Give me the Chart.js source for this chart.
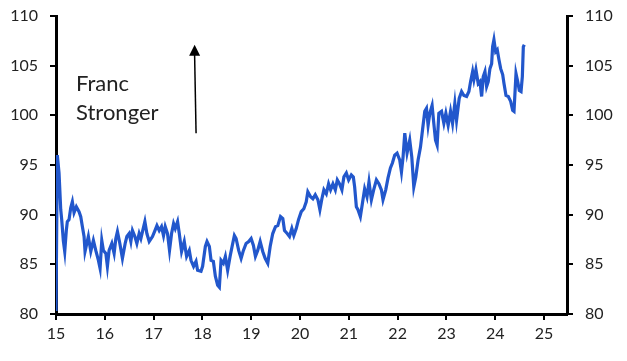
<!DOCTYPE html>
<html>
<head>
<meta charset="utf-8">
<script src="https://cdn.jsdelivr.net/npm/chart.js@4.4.1/dist/chart.umd.min.js"></script>
<style>
  html, body { margin: 0; padding: 0; background: #fff; }
  #wrap { width: 627px; height: 361px; }
</style>
</head>
<body>
<div id="wrap"><canvas id="chart"></canvas></div>
<script>
// Franc index, x in years (15 = 2015)
const years = [
  15.000, 15.027, 15.062, 15.097, 15.117, 15.150, 15.179, 15.211, 15.232, 15.267,
  15.302, 15.335, 15.370, 15.417, 15.472, 15.507, 15.540, 15.575, 15.595, 15.663,
  15.713, 15.766, 15.815, 15.869, 15.903, 15.938, 15.971, 16.021, 16.053, 16.088,
  16.144, 16.191, 16.226, 16.259, 16.308, 16.361, 16.417, 16.452, 16.499, 16.534,
  16.567, 16.616, 16.657, 16.704, 16.739, 16.772, 16.821, 16.862, 16.910, 16.977,
  17.027, 17.068, 17.115, 17.162, 17.203, 17.238, 17.285, 17.326, 17.368, 17.409,
  17.444, 17.491, 17.526, 17.573, 17.628, 17.676, 17.731, 17.766, 17.819, 17.869,
  17.901, 17.971, 18.004, 18.060, 18.094, 18.142, 18.177, 18.224, 18.265, 18.312,
  18.347, 18.382, 18.429, 18.470, 18.517, 18.567, 18.608, 18.655, 18.690, 18.743,
  18.793, 18.840, 18.895, 18.949, 18.998, 19.045, 19.086, 19.133, 19.183, 19.236,
  19.285, 19.339, 19.388, 19.441, 19.497, 19.544, 19.600, 19.647, 19.682, 19.737,
  19.784, 19.832, 19.873, 19.922, 19.969, 20.025, 20.078, 20.127, 20.160, 20.216,
  20.263, 20.312, 20.366, 20.407, 20.448, 20.489, 20.538, 20.585, 20.626, 20.674,
  20.723, 20.764, 20.811, 20.858, 20.899, 20.949, 20.996, 21.051, 21.092, 21.119,
  21.154, 21.187, 21.236, 21.277, 21.324, 21.372, 21.413, 21.462, 21.509, 21.565,
  21.618, 21.667, 21.700, 21.756, 21.803, 21.852, 21.893, 21.940, 21.988, 22.043,
  22.078, 22.111, 22.146, 22.193, 22.248, 22.290, 22.331, 22.372, 22.419, 22.468,
  22.509, 22.556, 22.591, 22.624, 22.659, 22.706, 22.741, 22.776, 22.809, 22.844,
  22.899, 22.947, 22.988, 23.035, 23.084, 23.125, 23.172, 23.207, 23.261, 23.310,
  23.357, 23.413, 23.460, 23.495, 23.536, 23.563, 23.604, 23.651, 23.686, 23.721,
  23.754, 23.789, 23.823, 23.856, 23.891, 23.926, 23.946, 23.973, 24.008, 24.041,
  24.076, 24.111, 24.152, 24.179, 24.220, 24.267, 24.316, 24.357, 24.384, 24.425,
  24.460, 24.493, 24.528, 24.555, 24.575, 24.595
];
const francIndex = [
  80.3, 96.0, 94.2, 90.5, 89.5, 87.4, 86.3, 88.4, 89.3, 89.5,
  90.7, 91.3, 90.2, 90.8, 90.3, 89.8, 88.8, 87.8, 86.3, 87.8,
  86.3, 87.4, 86.4, 85.4, 84.6, 87.4, 86.4, 86.1, 84.8, 86.4,
  87.1, 86.1, 87.6, 88.3, 87.1, 85.6, 87.1, 87.8, 88.1, 87.3,
  88.4, 87.8, 87.1, 88.1, 87.6, 88.3, 89.3, 88.1, 87.3, 87.8,
  88.4, 88.9, 88.4, 88.8, 87.9, 88.8, 88.1, 86.4, 88.1, 89.1,
  88.6, 89.3, 88.1, 86.3, 87.3, 85.8, 86.4, 85.4, 84.8, 85.3,
  84.4, 84.3, 84.8, 86.8, 87.3, 86.8, 85.4, 85.3, 83.8, 82.9,
  82.7, 85.4, 85.1, 85.8, 84.4, 85.8, 86.8, 87.9, 87.6, 86.4,
  85.6, 86.4, 87.1, 87.3, 87.6, 86.9, 85.8, 86.4, 87.3, 86.3,
  85.6, 85.1, 86.8, 88.1, 88.8, 88.9, 89.8, 89.6, 88.4, 88.1,
  87.8, 88.6, 87.9, 88.6, 89.5, 90.3, 90.6, 91.3, 92.3, 91.8,
  91.6, 92.0, 91.5, 90.5, 91.6, 92.5, 92.1, 93.1, 92.5, 93.1,
  92.5, 93.5, 93.1, 92.5, 93.8, 94.2, 93.5, 94.0, 93.8, 92.8,
  90.8, 90.5, 89.8, 91.1, 92.6, 91.8, 93.3, 91.5, 92.5, 93.5,
  93.1, 92.5, 91.5, 92.5, 93.7, 94.7, 95.2, 96.0, 96.2, 95.5,
  94.3, 95.8, 98.2, 96.2, 97.5, 95.8, 92.8, 93.8, 95.5, 96.8,
  98.5, 100.4, 100.7, 99.0, 100.2, 101.0, 99.2, 97.5, 97.0, 100.2,
  100.4, 99.2, 100.2, 99.0, 100.4, 99.2, 101.2, 99.5, 101.7, 102.4,
  102.0, 101.9, 102.4, 103.4, 104.4, 103.6, 104.6, 103.2, 103.4, 101.9,
  103.9, 104.4, 102.9, 103.4, 104.7, 105.2, 106.9, 107.6, 106.4, 106.6,
  105.6, 104.7, 104.1, 103.2, 102.0, 101.9, 101.4, 100.5, 100.4, 104.2,
  103.4, 102.5, 102.4, 103.9, 106.9, 107.1
];
const yTicks = [80, 85, 90, 95, 100, 105, 110];
const xTicks = [15, 16, 17, 18, 19, 20, 21, 22, 23, 24, 25];
const noteLines = ["Franc", "Stronger"];

const points = years.map((x, i) => ({ x: x, y: francIndex[i] }));
const tickFont = { family: "Lato", size: 16 };

// text + arrow drawn at data positions
const notePlugin = {
  id: "notePlugin",
  afterDraw: (chart) => {
    const ctx = chart.ctx;
    const xs = chart.scales.x;
    const ys = chart.scales.y;
    ctx.save();
    ctx.fillStyle = "#222";
    ctx.font = "22px Lato";
    ctx.textBaseline = "middle";
    ctx.textAlign = "left";
    ctx.fillText(noteLines[0], xs.getPixelForValue(15.41), ys.getPixelForValue(103.2));
    ctx.fillText(noteLines[1], xs.getPixelForValue(15.41), ys.getPixelForValue(100.2));

    const x0 = xs.getPixelForValue(17.87), y0 = ys.getPixelForValue(98.2);
    const x1 = xs.getPixelForValue(17.84), y1 = ys.getPixelForValue(107.1);
    ctx.strokeStyle = "#000";
    ctx.lineWidth = 1.5;
    ctx.beginPath();
    ctx.moveTo(x0, y0);
    ctx.lineTo(x1, y1 + 10);
    ctx.stroke();
    ctx.fillStyle = "#000";
    ctx.beginPath();
    ctx.moveTo(x1, y1);
    ctx.lineTo(x1 - 5.5, y1 + 11);
    ctx.lineTo(x1 + 5.5, y1 + 11);
    ctx.closePath();
    ctx.fill();
    ctx.restore();
  },
};

const fitY = (w) => (s) => {
  s.width = w;
  s.paddingTop = 0;
  s.paddingBottom = 0;
};

new Chart(document.getElementById("chart"), {
  type: "line",
  data: {
    datasets: [
      {
        data: points,
        borderColor: "#2257cc",
        borderWidth: 3.2,
        pointRadius: 0,
        tension: 0,
        fill: false,
        yAxisID: "y",
      },
    ],
  },
  options: {
    responsive: true,
    maintainAspectRatio: false,
    animation: false,
    layout: { padding: { top: 16, bottom: 0, left: 0, right: 0 } },
    plugins: { legend: { display: false }, tooltip: { enabled: false } },
    scales: {
      x: {
        type: "linear",
        min: 15,
        max: 25.47,
        afterBuildTicks: (s) => { s.ticks = xTicks.map((v) => ({ value: v })); },
        afterFit: (s) => { s.height = 47; s.paddingLeft = 0; s.paddingRight = 0; },
        ticks: { font: tickFont, color: "#222", padding: 4, maxRotation: 0, autoSkip: false },
        grid: { drawOnChartArea: false, drawTicks: true, tickLength: 6, color: "#000", lineWidth: 2 },
        border: { display: true, color: "#000", width: 3 },
      },
      y: {
        position: "left",
        min: 80,
        max: 110,
        afterBuildTicks: (s) => { s.ticks = yTicks.map((v) => ({ value: v })); },
        afterFit: fitY(56),
        ticks: { font: tickFont, color: "#222", padding: 12 },
        grid: { drawOnChartArea: false, drawTicks: true, tickLength: 6, color: "#000", lineWidth: 2 },
        border: { display: true, color: "#000", width: 3 },
      },
      y2: {
        position: "right",
        min: 80,
        max: 110,
        afterBuildTicks: (s) => { s.ticks = yTicks.map((v) => ({ value: v })); },
        afterFit: fitY(60),
        ticks: { font: tickFont, color: "#222", padding: 12 },
        grid: { drawOnChartArea: false, drawTicks: true, tickLength: 6, color: "#000", lineWidth: 2 },
        border: { display: true, color: "#000", width: 3 },
      },
    },
  },
  plugins: [notePlugin],
});
</script>
</body>
</html>
